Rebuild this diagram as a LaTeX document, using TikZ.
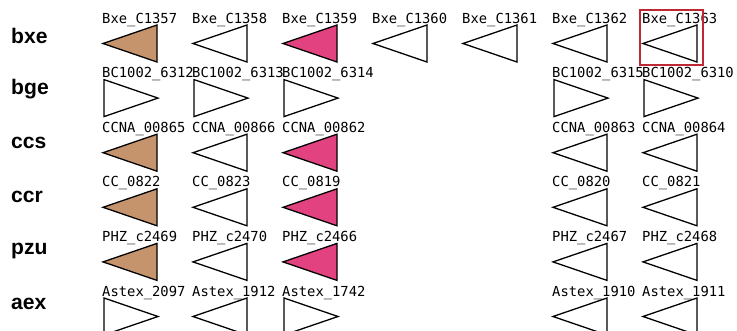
\documentclass[tikz,border=0pt]{standalone}
\usepackage{fontspec}
\setmainfont{Liberation Sans}
\newfontfamily\genefont{DejaVu Sans Mono}
\usepackage{xcolor}
\usepackage{tikz}
\usetikzlibrary{positioning}
\definecolor{orthotan}{RGB}{198, 148, 108}
\definecolor{orthopink}{RGB}{226, 66, 128}
\definecolor{focusred}{RGB}{190, 40, 50}

% triangles: tip x, top y, fill colour
\newcommand{\genleft}[3]{\filldraw[genetri,fill=#3] (#1,#2+18.5) -- (#1+54,#2) -- (#1+54,#2+37) -- cycle;}
\newcommand{\genright}[3]{\filldraw[genetri,fill=#3] (#1+1,#2) -- (#1+55,#2+18.5) -- (#1+1,#2+37) -- cycle;}

\begin{document}
\begin{tikzpicture}[x=0.03cm,y=-0.03cm,
    genetri/.style={draw=black,line width=1.1pt,line join=miter},
    genelabel/.style={anchor=base west,inner sep=0pt,font=\genefont\fontsize{11.8}{12}\selectfont},
    species/.style={anchor=west,inner sep=0pt,font=\bfseries\fontsize{18}{18}\selectfont}]
    \useasboundingbox (0,0) rectangle (737,330);
    \clip (0,0) rectangle (737,330);

    % species names
    \node[species] (bxe) at (11,36) {bxe};
    \node[species] (bge) at (11,89) {bge};
    \node[species] (ccs) at (11,143) {ccs};
    \node[species] (ccr) at (11,197) {ccr};
    \node[species] (pzu) at (11,251) {pzu};
    \node[species] (aex) at (11,304) {aex};

    % bxe
    \genleft{103}{25}{orthotan}
    \genleft{193}{25}{white}
    \genleft{283}{25}{orthopink}
    \genleft{373}{25}{white}
    \genleft{463}{25}{white}
    \genleft{553}{25}{white}
    \genleft{643}{25}{white}
    \node[genelabel] (bxe1) at (102,23) {Bxe\_C1357};
    \node[genelabel] (bxe2) at (192,23) {Bxe\_C1358};
    \node[genelabel] (bxe3) at (282,23) {Bxe\_C1359};
    \node[genelabel] (bxe4) at (372,23) {Bxe\_C1360};
    \node[genelabel] (bxe5) at (462,23) {Bxe\_C1361};
    \node[genelabel] (bxe6) at (552,23) {Bxe\_C1362};
    \node[genelabel] (bxe7) at (642,23) {Bxe\_C1363};
    \draw[focusred,line width=0.9pt] (640,10) rectangle (703,65);

    % bge
    \genright{103}{79.6}{white}
    \genright{193}{79.6}{white}
    \genright{283}{79.6}{white}
    \genright{553}{79.6}{white}
    \genright{643}{79.6}{white}
    \node[genelabel] (bge1) at (102,77.6) {BC1002\_6312};
    \node[genelabel] (bge2) at (192,77.6) {BC1002\_6313};
    \node[genelabel] (bge3) at (282,77.6) {BC1002\_6314};
    \node[genelabel] (bge6) at (552,77.6) {BC1002\_6315};
    \node[genelabel] (bge7) at (642,77.6) {BC1002\_6310};

    % ccs
    \genleft{103}{134.2}{orthotan}
    \genleft{193}{134.2}{white}
    \genleft{283}{134.2}{orthopink}
    \genleft{553}{134.2}{white}
    \genleft{643}{134.2}{white}
    \node[genelabel] (ccs1) at (102,132.2) {CCNA\_00865};
    \node[genelabel] (ccs2) at (192,132.2) {CCNA\_00866};
    \node[genelabel] (ccs3) at (282,132.2) {CCNA\_00862};
    \node[genelabel] (ccs6) at (552,132.2) {CCNA\_00863};
    \node[genelabel] (ccs7) at (642,132.2) {CCNA\_00864};

    % ccr
    \genleft{103}{188.8}{orthotan}
    \genleft{193}{188.8}{white}
    \genleft{283}{188.8}{orthopink}
    \genleft{553}{188.8}{white}
    \genleft{643}{188.8}{white}
    \node[genelabel] (ccr1) at (102,186.8) {CC\_0822};
    \node[genelabel] (ccr2) at (192,186.8) {CC\_0823};
    \node[genelabel] (ccr3) at (282,186.8) {CC\_0819};
    \node[genelabel] (ccr6) at (552,186.8) {CC\_0820};
    \node[genelabel] (ccr7) at (642,186.8) {CC\_0821};

    % pzu
    \genleft{103}{243.4}{orthotan}
    \genleft{193}{243.4}{white}
    \genleft{283}{243.4}{orthopink}
    \genleft{553}{243.4}{white}
    \genleft{643}{243.4}{white}
    \node[genelabel] (pzu1) at (102,241.4) {PHZ\_c2469};
    \node[genelabel] (pzu2) at (192,241.4) {PHZ\_c2470};
    \node[genelabel] (pzu3) at (282,241.4) {PHZ\_c2466};
    \node[genelabel] (pzu6) at (552,241.4) {PHZ\_c2467};
    \node[genelabel] (pzu7) at (642,241.4) {PHZ\_c2468};

    % aex
    \genright{103}{298}{white}
    \genleft{193}{298}{white}
    \genright{283}{298}{white}
    \genleft{553}{298}{white}
    \genleft{643}{298}{white}
    \node[genelabel] (aex1) at (102,296) {Astex\_2097};
    \node[genelabel] (aex2) at (192,296) {Astex\_1912};
    \node[genelabel] (aex3) at (282,296) {Astex\_1742};
    \node[genelabel] (aex6) at (552,296) {Astex\_1910};
    \node[genelabel] (aex7) at (642,296) {Astex\_1911};
\end{tikzpicture}
\end{document}
